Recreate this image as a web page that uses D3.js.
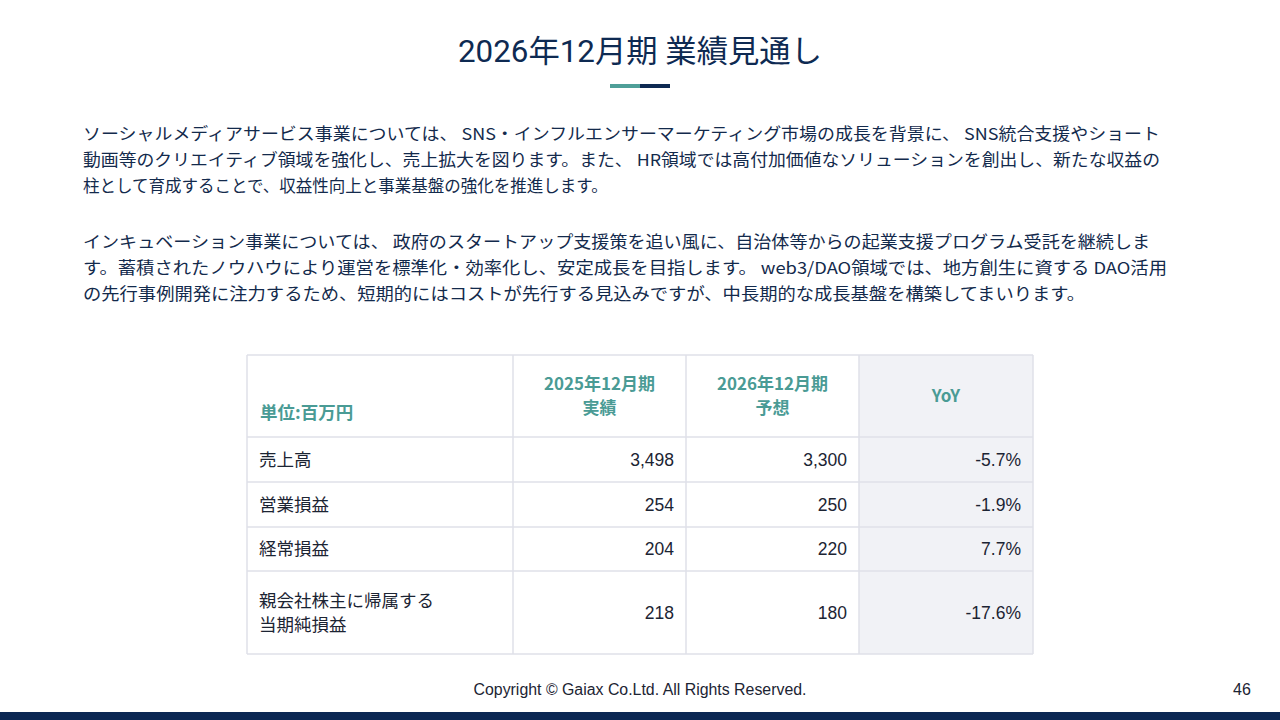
<!DOCTYPE html>
<html><head><meta charset="utf-8">
<script src="https://cdn.jsdelivr.net/npm/d3@7"></script>
<style>
html,body{margin:0;padding:0;background:#fff;}
svg{display:block;}
</style></head>
<body>
<svg id="c" width="1280" height="720"></svg>
<script>
// ---- data ----
const title = "2026年12月期 業績見通し";
const paragraph1 = [
  "ソーシャルメディアサービス事業については、 SNS・インフルエンサーマーケティング市場の成長を背景に、 SNS統合支援やショート",
  "動画等のクリエイティブ領域を強化し、売上拡大を図ります。また、 HR領域では高付加価値なソリューションを創出し、新たな収益の",
  "柱として育成することで、収益性向上と事業基盤の強化を推進します。"
];
const paragraph2 = [
  "インキュベーション事業については、 政府のスタートアップ支援策を追い風に、自治体等からの起業支援プログラム受託を継続しま",
  "す。蓄積されたノウハウにより運営を標準化・効率化し、安定成長を目指します。  web3/DAO領域では、地方創生に資する DAO活用",
  "の先行事例開発に注力するため、短期的にはコストが先行する見込みですが、中長期的な成長基盤を構築してまいります。"
];
const unitLabel = "単位:百万円";
const columnHeaders = [["2025年12月期","実績"],["2026年12月期","予想"],["YoY"]];
const rowLabels = [["売上高"],["営業損益"],["経常損益"],["親会社株主に帰属する","当期純損益"]];
const fy2025 = [3498, 254, 204, 218];
const fy2026 = [3300, 250, 220, 180];
const yoy = [-5.7, -1.9, 7.7, -17.6];
const footer = "Copyright © Gaiax Co.Ltd. All Rights Reserved.";
const pageNo = "46";

// ---- layout ----
const svg = d3.select("#c");
const navy = "#0e2a52", teal = "#4a9b95", textCol = "#132a4c";
const jp = "'Noto Sans CJK JP','Noto Sans',sans-serif";
const latin = "Roboto,'Noto Sans CJK JP',sans-serif";

svg.append("text").attr("x",640).attr("y",62).attr("text-anchor","middle")
  .attr("font-family",latin).attr("font-size",31).attr("fill",navy)
  .attr("textLength",364).attr("lengthAdjust","spacingAndGlyphs").text(title);
svg.append("rect").attr("x",610).attr("y",84).attr("width",30).attr("height",4).attr("fill","#4f9f98");
svg.append("rect").attr("x",640).attr("y",84).attr("width",30).attr("height",4).attr("fill","#0e2a52");

const p1End = [1160, 1160, null], p2End = [1150, 1167, 1085];
function para(lines, y0, ends){
  lines.forEach((t,i)=>{
    const el = svg.append("text").attr("x",83).attr("y",y0+i*26)
      .attr("font-family",jp).attr("font-size",16.5).attr("fill",textCol).text(t);
    if(ends[i]) el.attr("textLength",ends[i]-83).attr("lengthAdjust","spacingAndGlyphs");
  });
}
para(paragraph1, 140, p1End);
para(paragraph2, 248, p2End);

// table
const colW = [266, 173, 173, 174];
const rowH = [82, 45, 45, 44, 83];
const tx = 247, ty = 355;
const colX = [tx, ...d3.cumsum(colW).map(v=>tx+v)];
const rowY = [ty, ...d3.cumsum(rowH).map(v=>ty+v)];
const tw = colX[colX.length-1]-tx, th = rowY[rowY.length-1]-ty;
const g = svg.append("g");
g.append("rect").attr("x",colX[3]).attr("y",ty).attr("width",colW[3]).attr("height",th).attr("fill","#f1f2f6");
const border = "#dfe1e8";
rowY.forEach(y=>g.append("line").attr("x1",tx).attr("x2",tx+tw).attr("y1",y).attr("y2",y).attr("stroke",border).attr("stroke-width",1.5));
colX.forEach(x=>g.append("line").attr("x1",x).attr("x2",x).attr("y1",ty).attr("y2",ty+th).attr("stroke",border).attr("stroke-width",1.5));

// header
g.append("text").attr("x",colX[0]+13).attr("y",rowY[0]+64).attr("font-family",jp).attr("font-weight","bold")
  .attr("font-size",17.5).attr("fill",teal).text(unitLabel);
columnHeaders.forEach((lines,ci)=>{
  const cx = (colX[ci+1]+colX[ci+2])/2;
  const cy = rowY[0]+rowH[0]/2;
  const lh = 24;
  lines.forEach((t,li)=>{
    g.append("text").attr("x",cx).attr("y",cy - (lines.length-1)*lh/2 + li*lh + 6)
      .attr("text-anchor","middle").attr("font-family",jp).attr("font-weight","bold")
      .attr("font-size",17).attr("fill",teal).text(t);
  });
});
const fmt = d3.format(",");
const dataCol = "#1c2433";
rowLabels.forEach((lines,ri)=>{
  const cy = (rowY[ri+1]+rowY[ri+2])/2;
  const lh = 24;
  lines.forEach((t,li)=>{
    g.append("text").attr("x",colX[0]+12).attr("y",cy-(lines.length-1)*lh/2+li*lh+6)
      .attr("font-family",jp).attr("font-size",17.5).attr("fill",dataCol).text(t);
  });
  const vals = [fmt(fy2025[ri]), fmt(fy2026[ri]), yoy[ri].toFixed(1)+"%"];
  vals.forEach((v,ci)=>{
    g.append("text").attr("x",colX[ci+2]-12).attr("y",cy+6).attr("text-anchor","end")
      .attr("font-family","'Liberation Sans',Arial,sans-serif").attr("font-size",17.5).attr("fill",dataCol).text(v);
  });
});

// footer
svg.append("text").attr("x",640).attr("y",695).attr("text-anchor","middle")
  .attr("font-family","'Liberation Sans',Arial,sans-serif").attr("font-size",16).attr("fill","#1c2433")
  .attr("textLength",333).attr("lengthAdjust","spacingAndGlyphs").text(footer);
svg.append("text").attr("x",1242).attr("y",695).attr("text-anchor","middle")
  .attr("font-family","'Liberation Sans',Arial,sans-serif").attr("font-size",16).attr("fill","#1c2433").text(pageNo);
svg.append("rect").attr("x",0).attr("y",712).attr("width",1280).attr("height",8).attr("fill","#0b2753");
</script>
</body></html>
